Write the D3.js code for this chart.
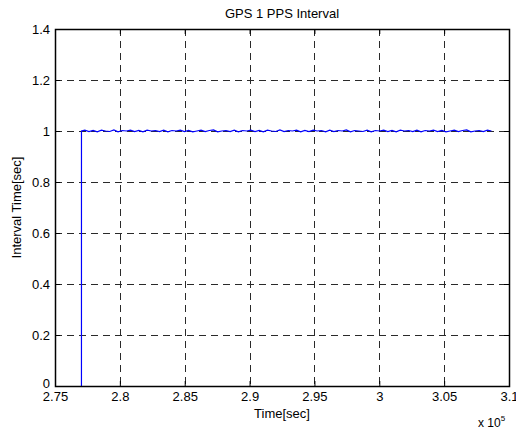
<!DOCTYPE html>
<html>
<head>
<meta charset="utf-8">
<script src="https://cdn.jsdelivr.net/npm/d3@7"></script>
<style>
  html, body { margin: 0; padding: 0; background: #fff; }
  svg { display: block; font-family: "Liberation Sans", Arial, sans-serif; }
</style>
</head>
<body>
<svg id="chart" width="516" height="430"></svg>
<script>
// Sample times (s) of the PPS edges and measured interval between edges (s)
const times = [
  277040, 277041,
  277300, 277620, 277940, 278260, 278580, 278900, 279220, 279540, 279860, 280180,
  280500, 280820, 281140, 281460, 281780, 282100, 282420, 282740, 283060, 283380,
  283700, 284020, 284340, 284660, 284980, 285300, 285620, 285940, 286260, 286580,
  286900, 287220, 287540, 287860, 288180, 288500, 288820, 289140, 289460, 289780,
  290100, 290420, 290740, 291060, 291380, 291700, 292020, 292340, 292660, 292980,
  293300, 293620, 293940, 294260, 294580, 294900, 295220, 295540, 295860, 296180,
  296500, 296820, 297140, 297460, 297780, 298100, 298420, 298740, 299060, 299380,
  299700, 300020, 300340, 300660, 300980, 301300, 301620, 301940, 302260, 302580,
  302900, 303220, 303540, 303860, 304180, 304500, 304820, 305140, 305460, 305780,
  306100, 306420, 306740, 307060, 307380, 307700, 308020, 308340, 308650
];
const intervals = [
  0, 1.000,
  1.003, 0.998, 1.002, 0.997, 1.003, 1.000, 0.998, 1.004, 0.997, 1.002,
  1.000, 1.003, 0.998, 1.002, 0.997, 1.003, 1.000, 1.002, 0.998, 1.003,
  0.997, 1.002, 1.000, 1.003, 0.998, 1.002, 0.997, 1.000, 1.003, 0.998,
  1.002, 1.004, 0.997, 1.000, 1.002, 0.998, 1.003, 0.997, 1.002, 1.000,
  1.003, 0.998, 1.002, 0.997, 1.003, 1.000, 0.998, 1.004, 0.998, 1.002,
  1.000, 1.003, 0.997, 1.002, 0.998, 1.003, 1.000, 1.002, 0.997, 1.003,
  0.998, 1.002, 1.000, 1.004, 0.997, 1.002, 1.000, 0.998, 1.003, 0.997,
  1.002, 1.000, 1.003, 0.998, 1.002, 0.997, 1.003, 1.000, 1.002, 0.998,
  1.003, 0.997, 1.002, 1.000, 1.003, 0.998, 1.002, 0.997, 1.000, 1.003,
  0.998, 1.002, 1.004, 0.997, 1.000, 1.002, 0.998, 1.003, 1.000
];

// Axis ticks
const xTicks = [275000, 280000, 285000, 290000, 295000, 300000, 305000, 310000];
const xTickLabels = ["2.75", "2.8", "2.85", "2.9", "2.95", "3", "3.05", "3.1"];
const yTicks = [0, 0.2, 0.4, 0.6, 0.8, 1.0, 1.2, 1.4];
const yTickLabels = ["0", "0.2", "0.4", "0.6", "0.8", "1", "1.2", "1.4"];

const titleText = "GPS 1 PPS Interval";
const xLabelText = "Time[sec]";
const yLabelText = "Interval Time[sec]";

const margin = { top: 29, right: 7, bottom: 44, left: 55 };
const W = 516, H = 430;
const w = W - margin.left - margin.right;
const h = H - margin.top - margin.bottom;

const svg = d3.select("#chart");
const g = svg.append("g").attr("transform", `translate(${margin.left},${margin.top})`);

const x = d3.scaleLinear().domain([275000, 310000]).range([0, w]);
const y = d3.scaleLinear().domain([0, 1.4]).range([h, 0]);

const px = v => Math.round(v) + 0.5;
const fontSize = 13;
const fontFamily = '"Liberation Sans", Arial, sans-serif';

// Dashed grid
g.append("g").selectAll("line").data(xTicks.slice(1, -1)).join("line")
  .attr("x1", d => px(x(d))).attr("x2", d => px(x(d)))
  .attr("y1", 0).attr("y2", h)
  .attr("stroke", "#2a2a2a").attr("stroke-width", 1).attr("stroke-dasharray", "7,5");
g.append("g").selectAll("line").data(yTicks.slice(1, -1)).join("line")
  .attr("y1", d => px(y(d))).attr("y2", d => px(y(d)))
  .attr("x1", 0).attr("x2", w)
  .attr("stroke", "#2a2a2a").attr("stroke-width", 1).attr("stroke-dasharray", "7,5");

// Data line
const line = d3.line().x(d => x(d[0])).y(d => y(d[1]));
g.append("path")
  .datum(d3.zip(times, intervals))
  .attr("d", line)
  .attr("fill", "none")
  .attr("stroke", "#0000ff")
  .attr("stroke-width", 1.2);

// Axes with inward ticks on all four sides
const tickLen = 5;
const xAxisB = d3.axisBottom(x).tickValues(xTicks).tickSizeInner(-tickLen).tickSizeOuter(0)
  .tickPadding(6).tickFormat((d, i) => xTickLabels[i]);
const xAxisT = d3.axisTop(x).tickValues(xTicks).tickSizeInner(-tickLen).tickSizeOuter(0).tickFormat("");
const yAxisL = d3.axisLeft(y).tickValues(yTicks).tickSizeInner(-tickLen).tickSizeOuter(0)
  .tickPadding(5).tickFormat((d, i) => yTickLabels[i]);
const yAxisR = d3.axisRight(y).tickValues(yTicks).tickSizeInner(-tickLen).tickSizeOuter(0).tickFormat("");

function styleAxis(sel) {
  sel.select(".domain").remove();
  sel.selectAll("line").attr("stroke", "#000");
  sel.selectAll("text").attr("fill", "#000").style("font-size", fontSize + "px")
    .style("font-family", fontFamily);
}
g.append("g").attr("transform", `translate(0,${h})`).call(xAxisB).call(styleAxis);
g.append("g").call(xAxisT).call(styleAxis);
const yAxisG = g.append("g").call(yAxisL).call(styleAxis);
// lift the "0" label a little so it sits just above the x tick labels
yAxisG.selectAll(".tick text").filter(d => d === 0).attr("dy", "0.1em");
g.append("g").attr("transform", `translate(${w},0)`).call(yAxisR).call(styleAxis);

// Box
g.append("rect")
  .attr("x", 0.5).attr("y", 0.5).attr("width", w).attr("height", h)
  .attr("fill", "none").attr("stroke", "#000").attr("stroke-width", 1.5);

// Title and axis labels
svg.append("text")
  .attr("x", margin.left + w / 2).attr("y", 18)
  .attr("text-anchor", "middle").style("font-size", fontSize + "px")
  .text(titleText);
svg.append("text")
  .attr("x", margin.left + w / 2).attr("y", 418)
  .attr("text-anchor", "middle").style("font-size", fontSize + "px")
  .text(xLabelText);
svg.append("text")
  .attr("transform", `translate(21,${margin.top + h / 2}) rotate(-90)`)
  .attr("text-anchor", "middle").style("font-size", fontSize + "px")
  .text(yLabelText);

// Exponent of the x axis
const expo = svg.append("text")
  .attr("x", 478).attr("y", 427).style("font-size", "12px");
expo.append("tspan").text("x 10");
expo.append("tspan").attr("dy", -6).style("font-size", "8px").text("5");
</script>
</body>
</html>
